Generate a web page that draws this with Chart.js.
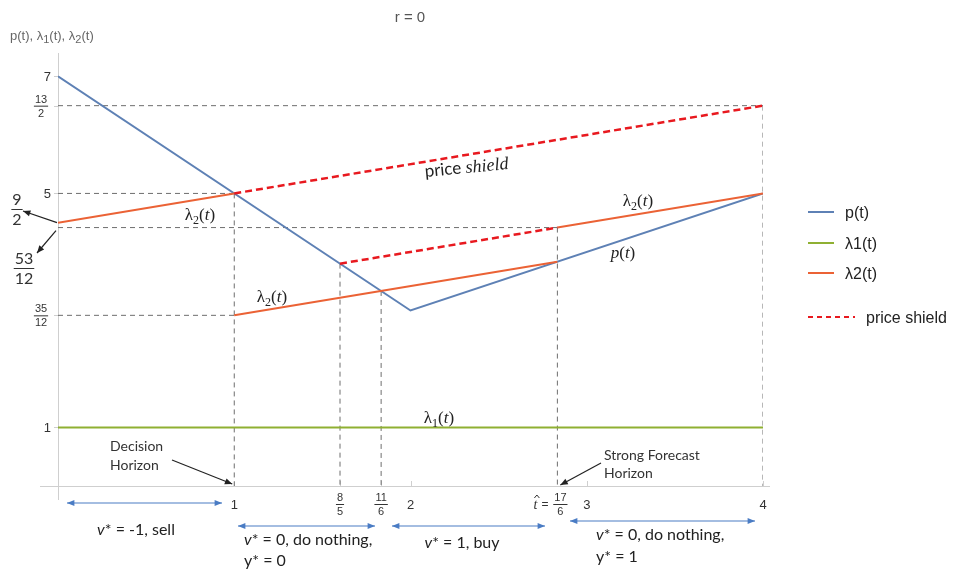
<!DOCTYPE html>
<html>
<head>
<meta charset="utf-8">
<script src="https://cdn.jsdelivr.net/npm/chart.js@4.4.0/dist/chart.umd.min.js"></script>
<style>
	body { margin: 0; background: #fff; }
	#wrap { width: 963px; height: 570px; }
</style>
</head>
<body>
<div id="wrap"><canvas id="chart" width="963" height="570"></canvas></div>
<script>
// chart values (t on x, value on y)
const pT = [0, 2, 4];
const pV = [7, 3, 5];

const lambda1T = [0, 4];
const lambda1V = [1, 1];

// lambda2 has three pieces, null breaks the line
const lambda2T = [0, 1, 1, 1, 17 / 6, 17 / 6, 17 / 6, 4];
const lambda2V = [9 / 2, 5, null, 35 / 12, 23 / 6, null, 53 / 12, 5];

const shieldT = [1, 4, 4, 8 / 5, 17 / 6];
const shieldV = [5, 13 / 2, null, 19 / 5, 53 / 12];

// gray guide lines
const hGuideY = [13 / 2, 5, 53 / 12, 35 / 12];
const hGuideEnd = [4, 1, 17 / 6, 1];
const vGuideX = [1, 8 / 5, 11 / 6, 17 / 6, 4];
const vGuideTop = [5, 19 / 5, 10 / 3, 53 / 12, 13 / 2];

// tick labels
const xTickVals = [1, 2, 3, 4];
const xFracVals = [8 / 5, 11 / 6];
const xFracLabels = [["8", "5"], ["11", "6"]];
const yTickVals = [7, 5, 1];
const yFracVals = [13 / 2, 35 / 12];
const yFracLabels = [["13", "2"], ["35", "12"]];

function toPoints(ts, vs) {
	return ts.map((t, i) => ({ x: t, y: vs[i] }));
}

function guidePoints() {
	let pts = [];
	hGuideY.forEach((y, i) => {
		pts.push({ x: 0, y: y }, { x: hGuideEnd[i], y: y }, { x: hGuideEnd[i], y: null });
	});
	vGuideX.forEach((x, i) => {
		pts.push({ x: x, y: vGuideTop[i] }, { x: x, y: 0 }, { x: x, y: null });
	});
	return pts;
}

const BLUE = "#5e81b5";
const GREEN = "#8fb032";
const ORANGE = "#eb6235";
const RED = "#e8191f";
const ARROW_BLUE = "#4a7cc4";

const SANS = "'Liberation Sans', Arial, sans-serif";
const CAL = "Lato, 'Open Sans', sans-serif";
const SERIF = "'Liberation Serif', serif";

function arrowHead(ctx, x1, y1, x2, y2, size) {
	const a = Math.atan2(y2 - y1, x2 - x1);
	ctx.beginPath();
	ctx.moveTo(x2, y2);
	ctx.lineTo(x2 - size * Math.cos(a - 0.4), y2 - size * Math.sin(a - 0.4));
	ctx.lineTo(x2 - size * Math.cos(a + 0.4), y2 - size * Math.sin(a + 0.4));
	ctx.closePath();
	ctx.fill();
}

function arrow(ctx, x1, y1, x2, y2, color, both) {
	ctx.save();
	ctx.strokeStyle = color;
	ctx.fillStyle = color;
	ctx.lineWidth = 1.2;
	ctx.beginPath();
	ctx.moveTo(x1, y1);
	ctx.lineTo(x2, y2);
	ctx.stroke();
	arrowHead(ctx, x1, y1, x2, y2, 8);
	if (both) arrowHead(ctx, x2, y2, x1, y1, 8);
	ctx.restore();
}

// parts: [text, font, dy]
function rich(ctx, parts, x, y, align) {
	let w = 0;
	parts.forEach((p) => {
		ctx.font = p[1];
		w += ctx.measureText(p[0]).width;
	});
	let cx = align === "center" ? x - w / 2 : align === "right" ? x - w : x;
	ctx.textAlign = "left";
	parts.forEach((p) => {
		ctx.font = p[1];
		ctx.fillText(p[0], cx, y + (p[2] || 0));
		cx += ctx.measureText(p[0]).width;
	});
}

function frac(ctx, num, den, x, y, size, font, gap) {
	ctx.font = size + "px " + font;
	ctx.textAlign = "center";
	ctx.textBaseline = "alphabetic";
	const w = Math.max(ctx.measureText(num).width, ctx.measureText(den).width) + 2;
	ctx.fillText(num, x, y - gap);
	ctx.fillText(den, x, y + gap + size * 0.72);
	ctx.save();
	ctx.lineWidth = 1;
	ctx.strokeStyle = ctx.fillStyle;
	ctx.beginPath();
	ctx.moveTo(x - w / 2, y + 0.5);
	ctx.lineTo(x + w / 2, y + 0.5);
	ctx.stroke();
	ctx.restore();
}

function lambdaLabel(ctx, sub, x, y) {
	rich(ctx, [
		["λ", "17px " + SERIF],
		[sub, "12px " + SERIF, 4],
		["(", "17px " + SERIF],
		["t", "italic 17px " + SERIF],
		[")", "17px " + SERIF],
	], x, y, "center");
}

const decorations = {
	id: "decorations",
	beforeDatasetsDraw(chart) {
		const ctx = chart.ctx;
		const xs = chart.scales.x;
		const ys = chart.scales.y;
		const x0 = xs.getPixelForValue(0);
		const y0 = ys.getPixelForValue(0);
		ctx.save();
		ctx.strokeStyle = "#cfcfcf";
		ctx.lineWidth = 1;
		ctx.beginPath();
		ctx.moveTo(40, y0 + 0.5);
		ctx.lineTo(770, y0 + 0.5);
		ctx.moveTo(x0 + 0.5, chart.chartArea.top);
		ctx.lineTo(x0 + 0.5, y0 + 14);
		// small ticks
		xTickVals.concat(xFracVals).forEach((v) => {
			const px = Math.round(xs.getPixelForValue(v)) + 0.5;
			ctx.moveTo(px, y0);
			ctx.lineTo(px, y0 - 5);
		});
		yTickVals.concat(yFracVals).forEach((v) => {
			const py = Math.round(ys.getPixelForValue(v)) + 0.5;
			ctx.moveTo(x0, py);
			ctx.lineTo(x0 - 4, py);
		});
		ctx.stroke();
		ctx.restore();
	},
	afterDatasetsDraw(chart) {
		const ctx = chart.ctx;
		const xs = chart.scales.x;
		const ys = chart.scales.y;
		const X = (v) => xs.getPixelForValue(v);
		const Y = (v) => ys.getPixelForValue(v);
		ctx.save();
		ctx.textBaseline = "alphabetic";

		// title
		ctx.fillStyle = "#555";
		ctx.font = "15px " + SANS;
		ctx.textAlign = "center";
		ctx.fillText("r = 0", 410, 22);

		// y axis title
		ctx.fillStyle = "#666";
		rich(ctx, [
			["p(t), ", "13px " + SANS],
			["λ", "13px " + SANS],
			["1", "11px " + SANS, 3],
			["(t), ", "13px " + SANS],
			["λ", "13px " + SANS],
			["2", "11px " + SANS, 3],
			["(t)", "13px " + SANS],
		], 10, 40, "left");

		// y ticks
		ctx.fillStyle = "#333";
		ctx.font = "13px " + SANS;
		ctx.textAlign = "right";
		yTickVals.forEach((v) => ctx.fillText(String(v), 51, Y(v) + 5));
		yFracVals.forEach((v, i) => {
			frac(ctx, yFracLabels[i][0], yFracLabels[i][1], 41, Y(v), 11, SANS, 3);
		});

		// 9/2 and 53/12 with arrows
		ctx.fillStyle = "#333";
		frac(ctx, "9", "2", 17, 209, 16, CAL, 4);
		frac(ctx, "53", "12", 24, 268, 16, CAL, 4);
		arrow(ctx, X(0) - 1, Y(9 / 2), 23, 211, "#222", false);
		arrow(ctx, X(0) - 2, Y(53 / 12) + 3, 37, 253, "#222", false);

		// x ticks
		ctx.fillStyle = "#333";
		ctx.font = "13px " + SANS;
		ctx.textAlign = "center";
		xTickVals.forEach((v) => ctx.fillText(String(v), X(v), Y(0) + 23));
		xFracVals.forEach((v, i) => {
			frac(ctx, xFracLabels[i][0], xFracLabels[i][1], X(v), Y(0) + 18, 11, SANS, 3);
		});
		// t-hat = 17/6
		const tx = X(17 / 6) - 24;
		ctx.font = "italic 14px " + SERIF;
		ctx.textAlign = "left";
		ctx.fillText("t", tx, Y(0) + 23);
		ctx.save();
		ctx.strokeStyle = "#333";
		ctx.lineWidth = 1;
		ctx.beginPath();
		ctx.moveTo(tx + 1, Y(0) + 12);
		ctx.lineTo(tx + 3.5, Y(0) + 9);
		ctx.lineTo(tx + 6, Y(0) + 12);
		ctx.stroke();
		ctx.restore();
		ctx.font = "12px " + SANS;
		ctx.fillText("=", tx + 8, Y(0) + 22);
		frac(ctx, "17", "6", X(17 / 6) + 3, Y(0) + 18, 11, SANS, 3);

		// curve labels
		ctx.fillStyle = "#222";
		lambdaLabel(ctx, "2", 200, 220);
		lambdaLabel(ctx, "2", 272, 302);
		lambdaLabel(ctx, "2", 638, 206);
		lambdaLabel(ctx, "1", 439, 423);
		rich(ctx, [
			["p", "italic 17px " + SERIF],
			["(", "17px " + SERIF],
			["t", "italic 17px " + SERIF],
			[")", "17px " + SERIF],
		], 623, 258, "center");

		// price shield label just under the line
		ctx.save();
		ctx.translate(467, 173);
		ctx.rotate(-0.095);
		ctx.fillStyle = "#222";
		rich(ctx, [["price ", "17px " + CAL], ["shield", "italic 18px " + SERIF]], 0, 0, "center");
		ctx.restore();

		// horizons
		ctx.fillStyle = "#333";
		ctx.font = "14px " + CAL;
		ctx.textAlign = "left";
		ctx.fillText("Decision", 110, 451);
		ctx.fillText("Horizon", 110, 470);
		arrow(ctx, 172, 460, X(1) - 2, Y(0) - 2, "#222", false);
		ctx.fillText("Strong Forecast", 604, 460);
		ctx.fillText("Horizon", 604, 478);
		arrow(ctx, 601, 463, X(17 / 6) + 3, Y(0) - 1, "#222", false);

		// decision ranges
		arrow(ctx, 67, 503, 222, 503, ARROW_BLUE, true);
		arrow(ctx, 238, 526, 375, 526, ARROW_BLUE, true);
		arrow(ctx, 392, 526, 545, 526, ARROW_BLUE, true);
		arrow(ctx, 570, 521, 755, 521, ARROW_BLUE, true);

		ctx.fillStyle = "#222";
		const F = "16px " + CAL;
		const FI = "italic 16px " + CAL;
		rich(ctx, [["v", FI], ["* = -1, sell", F]], 136, 535, "center");
		rich(ctx, [["v", FI], ["* = 0, do nothing,", F]], 244, 545, "left");
		rich(ctx, [["y* = 0", F]], 244, 566, "left");
		rich(ctx, [["v", FI], ["* = 1, buy", F]], 462, 548, "center");
		rich(ctx, [["v", FI], ["* = 0, do nothing,", F]], 596, 540, "left");
		rich(ctx, [["y* = 1", F]], 596, 562, "left");

		// legend
		const legend = [
			["p(t)", BLUE, 212],
			["λ1(t)", GREEN, 243],
			["λ2(t)", ORANGE, 273],
		];
		ctx.font = "16px " + SANS;
		ctx.textAlign = "left";
		legend.forEach((l) => {
			ctx.strokeStyle = l[1];
			ctx.lineWidth = 2;
			ctx.beginPath();
			ctx.moveTo(808, l[2]);
			ctx.lineTo(834, l[2]);
			ctx.stroke();
			ctx.fillStyle = "#222";
			ctx.fillText(l[0], 845, l[2] + 6);
		});
		ctx.strokeStyle = RED;
		ctx.lineWidth = 2;
		ctx.setLineDash([5, 4]);
		ctx.beginPath();
		ctx.moveTo(808, 317);
		ctx.lineTo(855, 317);
		ctx.stroke();
		ctx.setLineDash([]);
		ctx.fillText("price shield", 866, 323);

		ctx.restore();
	},
};

const ctx = document.getElementById("chart");
new Chart(ctx, {
	type: "scatter",
	data: {
		datasets: [
			{
				label: "guides",
				data: guidePoints(),
				showLine: true,
				borderColor: "#6e6e6e",
				borderWidth: 1,
				borderDash: [5, 4],
				pointRadius: 0,
				spanGaps: false,
				order: 10,
			},
			{
				label: "λ1(t)",
				data: toPoints(lambda1T, lambda1V),
				showLine: true,
				borderColor: GREEN,
				borderWidth: 2,
				pointRadius: 0,
				order: 4,
			},
			{
				label: "p(t)",
				data: toPoints(pT, pV),
				showLine: true,
				borderColor: BLUE,
				borderWidth: 2,
				pointRadius: 0,
				order: 3,
			},
			{
				label: "λ2(t)",
				data: toPoints(lambda2T, lambda2V),
				showLine: true,
				borderColor: ORANGE,
				borderWidth: 2,
				pointRadius: 0,
				spanGaps: false,
				order: 2,
			},
			{
				label: "price shield",
				data: toPoints(shieldT, shieldV),
				showLine: true,
				borderColor: RED,
				borderWidth: 2.5,
				borderDash: [7, 4],
				pointRadius: 0,
				spanGaps: false,
				order: 1,
			},
		],
	},
	options: {
		responsive: false,
		animation: false,
		layout: { padding: { left: 58, right: 200, top: 53, bottom: 84 } },
		plugins: {
			legend: { display: false },
			tooltip: { enabled: false },
		},
		scales: {
			x: { type: "linear", min: 0, max: 4, display: false },
			y: { type: "linear", min: 0, max: 7.4, display: false },
		},
	},
	plugins: [decorations],
});
</script>
</body>
</html>
